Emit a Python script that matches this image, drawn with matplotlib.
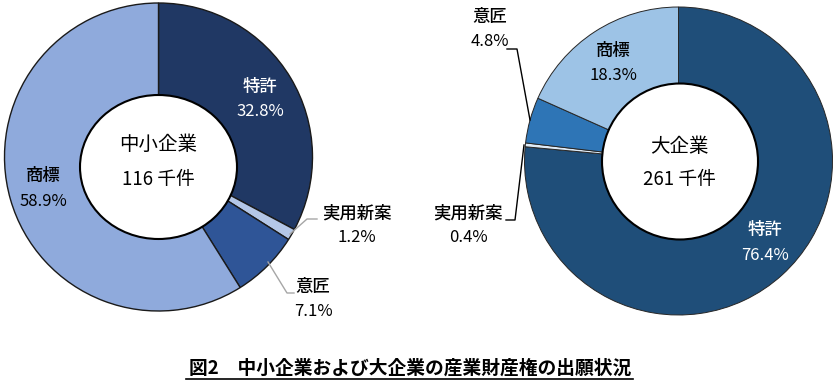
import matplotlib
matplotlib.use("Agg")
import matplotlib.pyplot as plt
from matplotlib.patches import Ellipse, Circle

plt.rcParams['font.family'] = ['Noto Sans CJK JP', 'DejaVu Sans']

categories = ['特許', '実用新案', '意匠', '商標']
sme_share = [32.8, 1.2, 7.1, 58.9]
large_share = [76.4, 0.4, 4.8, 18.3]
group_names = ['中小企業', '大企業']
totals = [116, 261]
title = '図2　中小企業および大企業の産業財産権の出願状況'

sme_colors = ['#203864', '#B4C7E7', '#2F5597', '#8FAADC']
large_colors = ['#1F4E79', '#DEEBF7', '#2E75B6', '#9DC3E6']

W, H = 836, 381
fig = plt.figure(figsize=(W / 100, H / 100), dpi=100)
ax = fig.add_axes([0, 0, 1, 1])


def Y(py):
    return H - py


# Left donut (SME)
ax.pie(sme_share, colors=sme_colors, startangle=90, counterclock=False,
       center=(158.5, Y(157)), radius=154, frame=True,
       wedgeprops=dict(edgecolor='#1a1a1a', linewidth=1.0))
ax.add_patch(Ellipse((158.5, Y(167)), 157, 144, facecolor='white',
                     edgecolor='black', linewidth=1.5, zorder=5))

# Right donut (large)
ax.pie(large_share, colors=large_colors, startangle=90, counterclock=False,
       center=(678.5, Y(161)), radius=154, frame=True,
       wedgeprops=dict(edgecolor='#262626', linewidth=0.7))
ax.add_patch(Circle((680, Y(161.5)), 78, facecolor='white',
                    edgecolor='black', linewidth=1.5, zorder=5))

ax.set_xlim(0, W)
ax.set_ylim(0, H)
ax.axis('off')

fs = 12.5


def label(x, y, name, val, color='black'):
    ax.text(x, Y(y), name, ha='center', va='center', fontsize=fs, color=color,
            fontweight='medium', zorder=10)
    ax.text(x, Y(y + 25), f'{val}%', ha='center', va='center', fontsize=fs - 0.5,
            color=color, zorder=10)


# Left labels
label(260, 87, categories[0], sme_share[0], 'white')
label(357, 213, categories[1], sme_share[1])
label(313, 287, categories[2], sme_share[2])
label(43, 176, categories[3], sme_share[3])

# Right labels
label(765, 230, categories[0], large_share[0], 'white')
label(468, 213, categories[1], large_share[1])
label(490, 17, categories[2], large_share[2])
label(613, 51, categories[3], large_share[3])

# Centers
ax.text(158.5, Y(144), group_names[0], ha='center', va='center', fontsize=14, zorder=10)
ax.text(158.5, Y(179), f'{totals[0]} 千件', ha='center', va='center', fontsize=13.5, zorder=10)
ax.text(679, Y(147), group_names[1], ha='center', va='center', fontsize=14, zorder=10)
ax.text(679, Y(180), f'{totals[1]} 千件', ha='center', va='center', fontsize=13.5, zorder=10)

# Leader lines
ax.plot([290, 307, 317], [Y(234), Y(219), Y(219)], color='#A6A6A6', lw=1, zorder=9)
ax.plot([268, 287, 294], [Y(262), Y(293), Y(293)], color='#A6A6A6', lw=1, zorder=9)
ax.plot([507, 517, 530], [Y(49), Y(49), Y(120)], color='black', lw=1, zorder=9)
ax.plot([506, 515, 524], [Y(220), Y(220), Y(145)], color='black', lw=1, zorder=9)

# Title
ax.text(410, Y(368), title, ha='center', va='center', fontsize=13.5,
        fontweight='bold', zorder=10)
ax.plot([186, 633], [Y(379), Y(379)], color='black', lw=1.2)

fig.savefig('out.png', dpi=100)
